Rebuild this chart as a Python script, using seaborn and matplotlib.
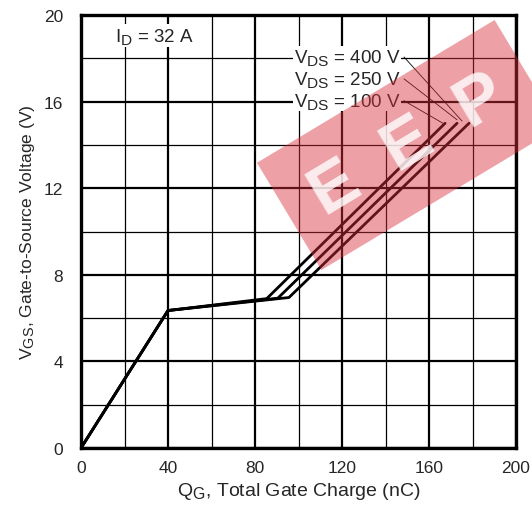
import numpy as np
import pandas as pd
import matplotlib
matplotlib.use("Agg")
import matplotlib.pyplot as plt
import matplotlib._mathtext as _mt
import seaborn as sns

# ---- data ----
vds_labels = ["100 V", "250 V", "400 V"]
q_100 = [0, 40, 85.4, 167.4]
v_100 = [0, 6.35, 6.90, 15.0]
q_250 = [0, 40, 90.5, 172.9]
v_250 = [0, 6.35, 6.92, 15.0]
q_400 = [0, 40, 95.6, 178.4]
v_400 = [0, 6.35, 6.95, 15.0]
x_ticks = [0, 40, 80, 120, 160, 200]
y_ticks = [0, 4, 8, 12, 16, 20]

rows = []
for lab, qs, vs in zip(vds_labels, [q_100, q_250, q_400], [v_100, v_250, v_400]):
    for i, (q, v) in enumerate(zip(qs, vs)):
        rows.append({"VDS": lab, "Q": q, "V": v, "order": i})
df = pd.DataFrame(rows)

sns.set_theme(style="white")
plt.rcParams["font.family"] = ["Liberation Sans", "DejaVu Sans"]
plt.rcParams["mathtext.default"] = "regular"
_mt.SHRINK_FACTOR = 0.82  # larger subscripts, as in the reference

fig = plt.figure(figsize=(5.32, 5.10), dpi=100)
ax = fig.add_axes([81/532, 1-449/510, (516-81)/532, (449-16)/510])

# grid
for x in np.arange(0, 201, 20):
    lw = 1.6 if x % 40 == 0 else 0.9
    ax.axvline(x, color="black", lw=lw, zorder=1)
for y in np.arange(0, 21, 2):
    lw = 1.6 if y % 4 == 0 else 0.9
    ax.axhline(y, color="black", lw=lw, zorder=1)

sns.lineplot(data=df, x="Q", y="V", hue="VDS", sort=False, estimator=None,
             units="VDS", palette=["black"] * 3, lw=2.0, legend=False, ax=ax, zorder=3)

ax.set_xlim(0, 200)
ax.set_ylim(0, 20)
ax.set_xticks(x_ticks)
ax.set_yticks(y_ticks)
ax.tick_params(length=0, labelsize=12.5)
ax.tick_params(axis="x", pad=9)
ax.tick_params(axis="y", pad=13)
for s in ax.spines.values():
    s.set_linewidth(2.4)
    s.set_color("black")
    s.set_zorder(5)

ax.set_xlabel(r"Q$_{G}$, Total Gate Charge (nC)", fontsize=14, labelpad=3)
ax.set_ylabel(r"V$_{GS}$, Gate-to-Source Voltage (V)", fontsize=12.6, labelpad=5)

ax.text(15.6, 19.05, r"I$_{D}$ = 32 A", fontsize=13.5, ha="left", va="center",
        bbox=dict(facecolor="white", edgecolor="none", pad=1), zorder=6)

# VDS labels with leader lines
lab_y = [16.04, 17.05, 18.06]
targets = [(166.4, 15.0), (172.9, 15.16), (175.2, 15.1)]
for lab, ly, (tx, ty) in zip(vds_labels, lab_y, targets):
    ax.text(147.0, ly, r"V$_{DS}$ = " + lab, fontsize=13.5, ha="right", va="center",
            bbox=dict(facecolor="white", edgecolor="none", pad=0.5), zorder=6)
    ax.plot([148.5, tx], [ly, ty], color="black", lw=0.6, zorder=6)

# watermark
fig.text(408/532, 1-146/510, "E  E  P", fontsize=50, fontweight="bold", color="white",
         rotation=31, ha="center", va="center", alpha=0.8, zorder=10,
         bbox=dict(facecolor="#d9303a", edgecolor="none", alpha=0.45, pad=22))

fig.savefig("out.png", dpi=100)
